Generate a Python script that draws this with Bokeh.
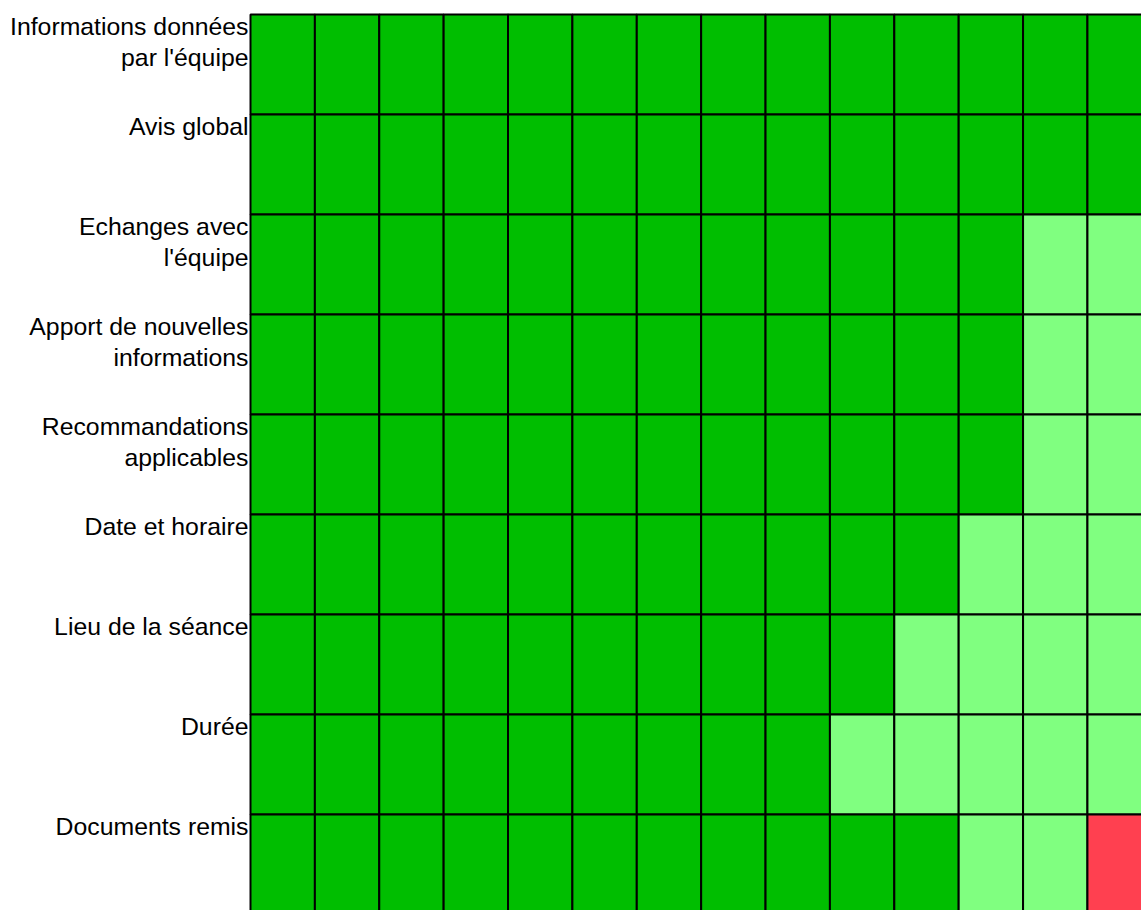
from bokeh.plotting import figure
from bokeh.models import Range1d, ColumnDataSource
from bokeh.core.properties import value
from bokeh.embed import file_html
from bokeh.resources import INLINE

# ---- data ----
categories = [
    "Informations données\npar l'équipe",
    "Avis global",
    "Echanges avec\nl'équipe",
    "Apport de nouvelles\ninformations",
    "Recommandations\napplicables",
    "Date et horaire",
    "Lieu de la séance",
    "Durée",
    "Documents remis",
]
very_satisfied = [14, 14, 12, 12, 12, 11, 10, 9, 11]
satisfied = [0, 0, 2, 2, 2, 3, 4, 5, 2]
not_satisfied = [0, 0, 0, 0, 0, 0, 0, 0, 1]

level_colors = ["#00BE00", "#80FF80", "#FF4050"]

# ---- build cells ----
left, right, top, bottom, color = [], [], [], [], []
for i in range(len(categories)):
    cols = ([level_colors[0]] * very_satisfied[i]
            + [level_colors[1]] * satisfied[i]
            + [level_colors[2]] * not_satisfied[i])
    for j, c in enumerate(cols):
        left.append(j)
        right.append(j + 1)
        top.append(i)
        bottom.append(i + 1)
        color.append(c)

cells = ColumnDataSource(dict(left=left, right=right, top=top, bottom=bottom, color=color))
labels = ColumnDataSource(dict(x=[0] * len(categories), y=list(range(len(categories))), text=categories))

W = 1141
H = 910
col_px = 64.38
row_px = 100.0
grid_left_px = 250
grid_top_px = 14

p = figure(
    width=W, height=H, output_backend="svg", toolbar_location=None,
    x_range=Range1d(-grid_left_px / col_px, (W - grid_left_px) / col_px),
    y_range=Range1d((H - grid_top_px) / row_px, -grid_top_px / row_px),
    min_border=0, min_border_left=0, min_border_right=0,
    min_border_top=0, min_border_bottom=0,
)
p.axis.visible = False
p.grid.visible = False
p.outline_line_color = None
p.background_fill_color = "white"
p.border_fill_color = "white"

p.quad(left="left", right="right", top="top", bottom="bottom", source=cells,
       fill_color="color", line_color="black", line_width=2)

p.text(x="x", y="y", text="text", source=labels,
       text_align="right", text_baseline="top",
       x_offset=-2, y_offset=-2,
       text_font=value("Liberation Sans"), text_font_size="24.8px",
       text_line_height=1.15, text_color="black")

open("out.html", "w").write(file_html(p, INLINE))
